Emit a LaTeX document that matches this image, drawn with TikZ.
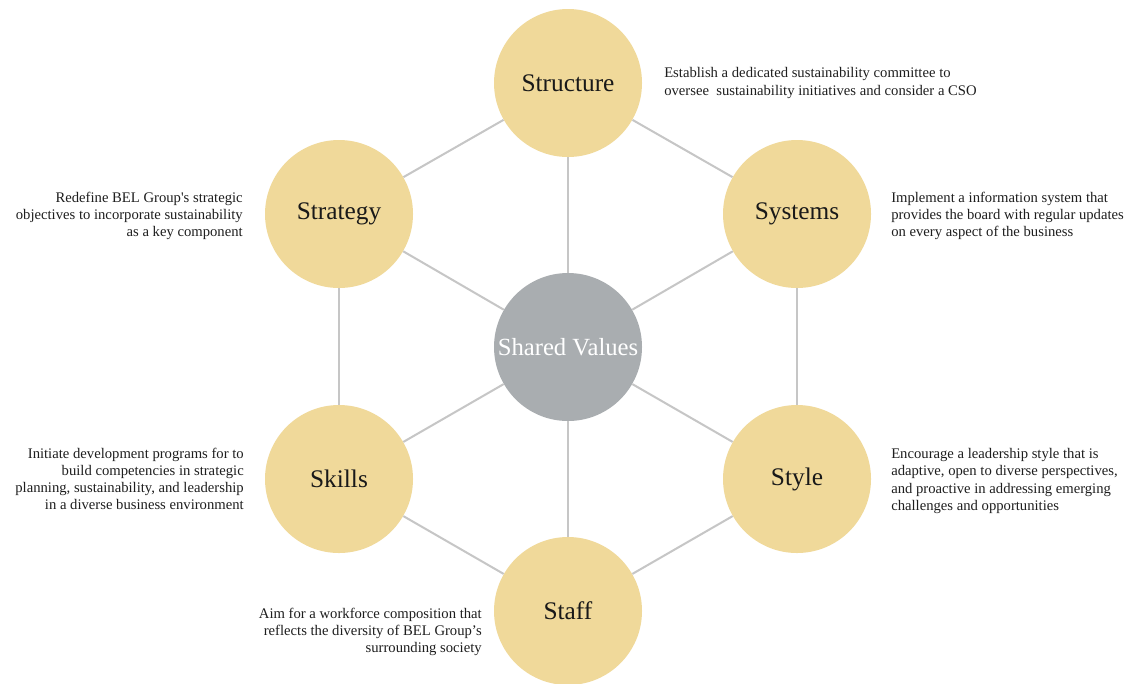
\documentclass[tikz,border=0pt]{standalone}
\usepackage{fontspec}
\setmainfont{Liberation Serif}
\definecolor{petal}{HTML}{F0D99A}
\definecolor{hub}{HTML}{A9ADB0}
\definecolor{spoke}{HTML}{C6C6C6}
\definecolor{note}{HTML}{1E1E1E}

\begin{document}
\begin{tikzpicture}[x=0.75pt,y=-0.75pt,
        petal/.style={circle,fill=petal,minimum size=111pt,inner sep=0pt,
                font=\fontsize{19}{22}\selectfont,text=black!90},
        hubnode/.style={circle,fill=hub,minimum size=111pt,inner sep=0pt,
                font=\fontsize{18.5}{22}\selectfont,text=white},
        link/.style={spoke,line width=1.5pt},
        note/.style={font=\fontsize{11}{12.9}\selectfont,text=note,inner sep=0pt}]
        \fill[white] (0,0) rectangle (1130,683);
        \useasboundingbox (0,0) rectangle (1130,683);
        % the seven S circles
        \node (values) [hubnode] at (568,347) {Shared Values};
        \node (structure) [petal] at (568,83) {Structure};
        \node (strategy) [petal] at (339,214) {Strategy};
        \node (systems) [petal] at (797,214) {Systems};
        \node (skills) [petal] at (339,479) {Skills};
        \node (style) [petal] at (797,479) {Style};
        \node (staff) [petal] at (568,611) {Staff};
        % outer ring
        \draw[link] (structure) -- (strategy);
        \draw[link] (structure) -- (systems);
        \draw[link] (strategy) -- (skills);
        \draw[link] (systems) -- (style);
        \draw[link] (skills) -- (staff);
        \draw[link] (style) -- (staff);
        % spokes to the hub
        \foreach \s in {structure,strategy,systems,skills,style,staff}
                \draw[link] (values) -- (\s);
        % notes
        \node (structurenote) [note,anchor=west,align=left] at (664,83)
                {Establish a dedicated sustainability committee to\\
                oversee\ \ sustainability initiatives and consider a CSO};
        \node (strategynote) [note,anchor=east,align=right] at (243,216)
                {Redefine BEL Group\textquotesingle s strategic\\
                objectives to incorporate sustainability\\
                as a key component};
        \node (systemsnote) [note,anchor=west,align=left] at (891,216)
                {Implement a information system that\\
                provides the board with regular updates\\
                on every aspect of the business};
        \node (skillsnote) [note,anchor=east,align=right] at (244,479)
                {Initiate development programs for to\\
                build competencies in strategic\\
                planning, sustainability, and leadership\\
                in a diverse business environment};
        \node (stylenote) [note,anchor=west,align=left] at (891,481)
                {Encourage a leadership style that is\\
                adaptive, open to diverse perspectives,\\
                and proactive in addressing emerging\\
                challenges and opportunities};
        \node (staffnote) [note,anchor=east,align=right] at (482,632)
                {Aim for a workforce composition that\\
                reflects the diversity of BEL Group’s\\
                surrounding society};
\end{tikzpicture}
\end{document}
